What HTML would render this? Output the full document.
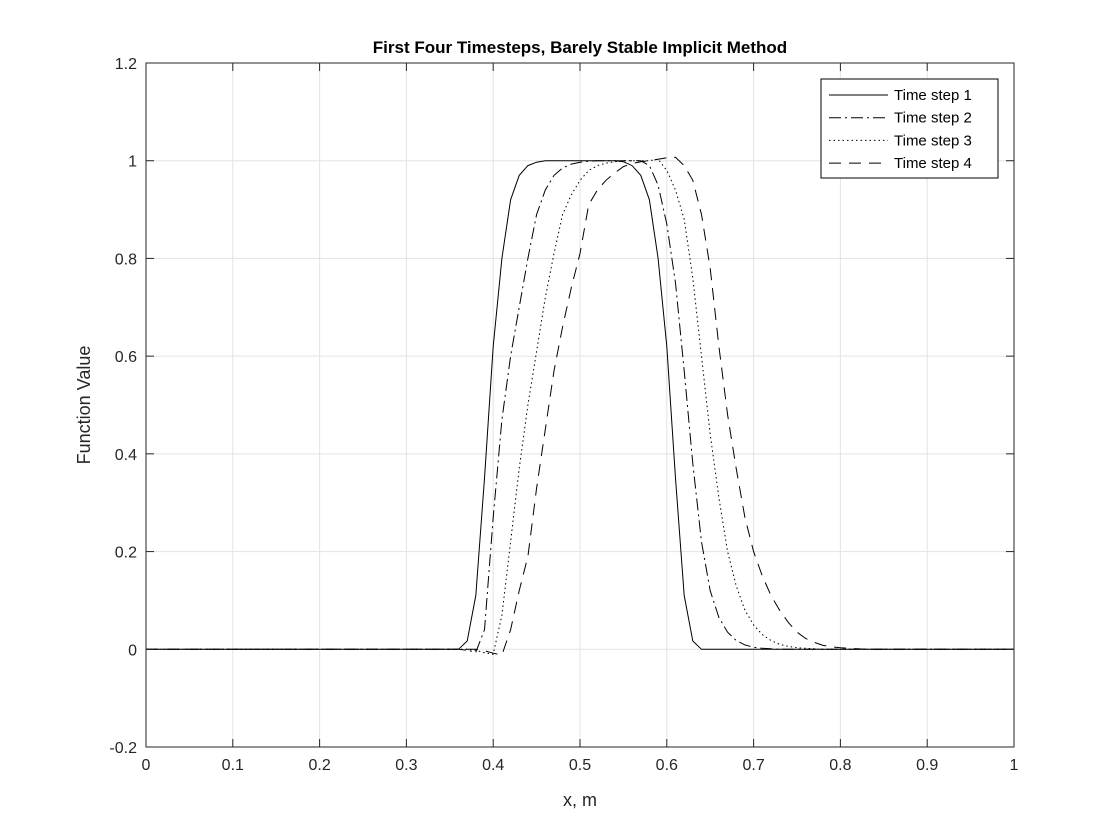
<!DOCTYPE html>
<html><head><meta charset="utf-8"><style>
body{margin:0;background:#fff}
svg{display:block;font-family:"Liberation Sans",Arial,sans-serif}
</style></head><body>
<svg id="chart" width="1120" height="840" viewBox="0 0 1120 840">
<rect width="1120" height="840" fill="#fff"/>
<g id="grid"></g>
<g id="series"></g>
<g id="axes"></g>
<text x="580" y="53" text-anchor="middle" font-size="17" font-weight="bold" fill="#000">First Four Timesteps, Barely Stable Implicit Method</text>
<text x="580" y="806" text-anchor="middle" font-size="18" fill="#262626">x, m</text>
<text transform="translate(90,405) rotate(-90)" text-anchor="middle" font-size="18" fill="#262626">Function Value</text>
<g id="legend">
<rect x="821" y="79" width="177" height="99" fill="#fff" stroke="#000" stroke-width="1"/>
</g>
</svg>
<script>
const xTicks=[0,0.1,0.2,0.3,0.4,0.5,0.6,0.7,0.8,0.9,1];
const xTickLabels=["0","0.1","0.2","0.3","0.4","0.5","0.6","0.7","0.8","0.9","1"];
const yTicks=[-0.2,0,0.2,0.4,0.6,0.8,1,1.2];
const yTickLabels=["-0.2","0","0.2","0.4","0.6","0.8","1","1.2"];
const seriesNames=["Time step 1","Time step 2","Time step 3","Time step 4"];
// values at x = 0.00, 0.01, ... 1.00 (only nonzero region listed; rest zero)
const step1Start=35;
const step1=[0,0,0.017,0.11,0.35,0.62,0.80,0.92,0.97,0.99,0.997,1,1,1,1,1,1,1,1,1,0.998,0.99,0.97,0.92,0.80,0.62,0.35,0.11,0.017,0];
const step2Start=36;
const step2=[0,-0.002,-0.006,0.04,0.27,0.47,0.60,0.70,0.80,0.89,0.94,0.97,0.985,0.993,0.997,0.999,1,1,1,1,1,1,0.99,0.95,0.87,0.75,0.57,0.38,0.22,0.12,0.065,0.035,0.018,0.009,0.004,0.002,0.001,0];
const step3Start=37;
const step3=[0,-0.002,-0.007,-0.01,0.07,0.22,0.37,0.50,0.61,0.72,0.81,0.89,0.93,0.96,0.98,0.99,0.995,0.998,1,1,1,1,1.003,0.98,0.94,0.88,0.76,0.60,0.44,0.31,0.20,0.13,0.08,0.05,0.03,0.018,0.01,0.006,0.003,0.002,0.001,0];
const step4Start=38;
const step4=[0,-0.003,-0.008,-0.012,0.04,0.12,0.19,0.33,0.45,0.57,0.66,0.74,0.81,0.91,0.94,0.96,0.975,0.988,0.994,0.998,1,1.003,1.006,1.007,0.99,0.96,0.89,0.78,0.62,0.48,0.37,0.27,0.20,0.15,0.11,0.08,0.055,0.035,0.022,0.014,0.008,0.005,0.003,0.002,0.001,0];

const L=146,R=1014,T=63,B=747;
const xs=v=>L+(v-0)/(1-0)*(R-L);
const ys=v=>B-(v+0.2)/1.4*(B-T);
const NS="http://www.w3.org/2000/svg";
function mk(tag,attrs,parent){const e=document.createElementNS(NS,tag);for(const k in attrs)e.setAttribute(k,attrs[k]);parent.appendChild(e);return e;}
const grid=document.getElementById('grid'),axes=document.getElementById('axes'),ser=document.getElementById('series'),leg=document.getElementById('legend');
xTicks.forEach((t,i)=>{
  const x=xs(t);
  const g=mk('line',{x1:x,x2:x,y1:T,y2:B,stroke:'#e3e3e3','stroke-width':1},grid);
  
  
  const tk=mk('line',{x1:x,x2:x,y1:B,y2:B-8,stroke:'#262626','stroke-width':1},axes);
  
  
  const tk2=mk('line',{x1:x,x2:x,y1:T,y2:T+8,stroke:'#262626','stroke-width':1},axes);
  
  
  const lb=mk('text',{x:x,y:B+23,'text-anchor':'middle','font-size':16,fill:'#262626'},axes);
  lb.textContent=xTickLabels[i];
  
  
});
yTicks.forEach((t,i)=>{
  const y=ys(t);
  const g=mk('line',{x1:L,x2:R,y1:y,y2:y,stroke:'#e3e3e3','stroke-width':1},grid);
  
  
  const tk=mk('line',{x1:L,x2:L+8,y1:y,y2:y,stroke:'#262626','stroke-width':1},axes);
  
  
  const tk2=mk('line',{x1:R,x2:R-8,y1:y,y2:y,stroke:'#262626','stroke-width':1},axes);
  
  
  const lb=mk('text',{x:L-9,y:y+6,'text-anchor':'end','font-size':16,fill:'#262626'},axes);
  lb.textContent=yTickLabels[i];
  
  
});
const box=mk('rect',{x:L,y:T,width:R-L,height:B-T,fill:'none',stroke:'#262626','stroke-width':1},axes);



const dashes=['none','12 4 2 4','1.5 3','12 8'];
const data=[[step1Start,step1],[step2Start,step2],[step3Start,step3],[step4Start,step4]];
data.forEach((d,si)=>{
  const [st,vals]=d;
  const pts=[];
  pts.push([xs(0),ys(0)]);
  vals.forEach((v,i)=>pts.push([xs((st+i)/100),ys(v)]));
  pts.push([xs(1),ys(0)]);
  const p=mk('polyline',{points:pts.map(p=>p[0].toFixed(1)+','+p[1].toFixed(1)).join(' '),fill:'none',stroke:'#000','stroke-width':1,'stroke-dasharray':dashes[si]},ser);
  
  
  const ly=95+si*22.7;
  const ll=mk('line',{x1:829,x2:888,y1:ly,y2:ly,stroke:'#000','stroke-width':1,'stroke-dasharray':dashes[si]},leg);
  
  
  const lt=mk('text',{x:894,y:ly+5,'font-size':15,fill:'#000'},leg);
  lt.textContent=seriesNames[si];
  
  
});
</script>
</body></html>
